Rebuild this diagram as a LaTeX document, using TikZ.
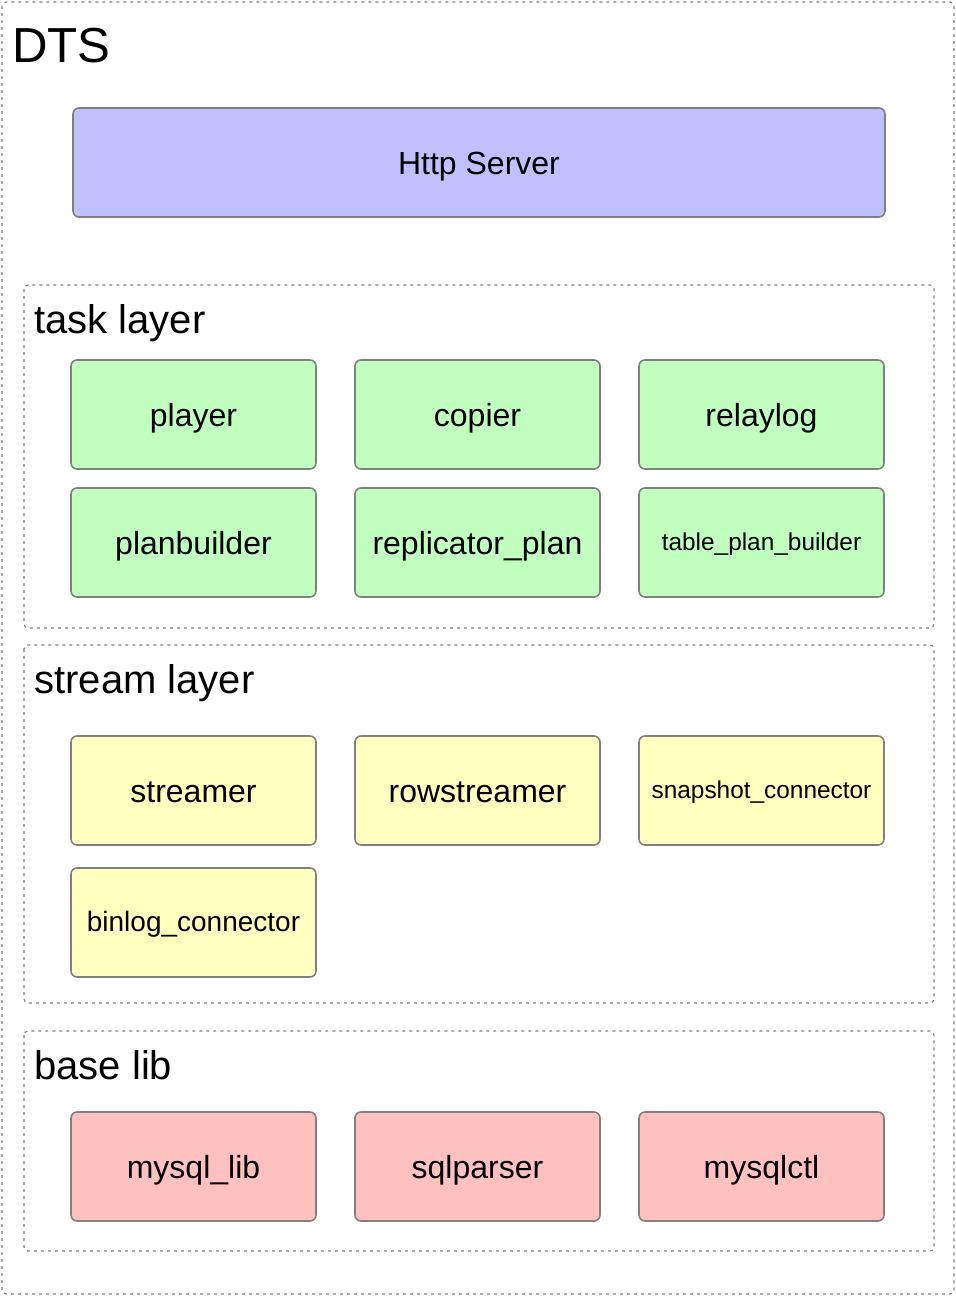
\documentclass[tikz,border=0pt]{standalone}
\usepackage{fontspec}
\setmainfont{Liberation Sans}

\definecolor{httpblue}{RGB}{192,192,255}
\definecolor{taskgreen}{RGB}{192,255,192}
\definecolor{streamyellow}{RGB}{255,255,192}
\definecolor{basered}{RGB}{255,192,192}
\definecolor{framegray}{RGB}{128,128,128}

\begin{document}
\begin{tikzpicture}[x=0.5pt, y=-0.5pt,
  module/.style={draw=framegray, line width=0.8pt, rounded corners=3pt, minimum width=122.5pt, minimum height=54.5pt, inner sep=0pt, text height=11.5pt, text depth=0pt, font=\fontsize{16}{19}\selectfont},
  smalltext/.style={text height=7.5pt, font=\fontsize{12.2}{15}\selectfont},
  layer/.style={draw=framegray, line width=0.6pt, dash pattern=on 1.5pt off 2pt, rounded corners=2pt},
  layertitle/.style={anchor=base west, inner sep=0pt, font=\fontsize{20}{24}\selectfont}]

\useasboundingbox (0,0) rectangle (956,1296);

% frames
\draw[layer] (2,2) rectangle (954,1294);
\draw[layer] (24,285) rectangle (934,628);
\draw[layer] (24,645) rectangle (934,1003);
\draw[layer] (24,1031) rectangle (934,1251);

% titles
\node[layertitle, font=\fontsize{24.6}{29}\selectfont] (dts) at (12,62) {DTS};
\node[layertitle] (tasktitle) at (34,333) {task layer};
\node[layertitle] (streamtitle) at (34,693) {stream layer};
\node[layertitle] (basetitle) at (34,1079) {base lib};

% http server
\node[module, fill=httpblue, minimum width=406pt] (http) at (479,162.5) {Http Server};

% task layer
\node[module, fill=taskgreen] (player) at (193.5,414.5) {player};
\node[module, fill=taskgreen] (copier) at (477.5,414.5) {copier};
\node[module, fill=taskgreen] (relaylog) at (761.5,414.5) {relaylog};
\node[module, fill=taskgreen] (planbuilder) at (193.5,542.5) {planbuilder};
\node[module, fill=taskgreen] (replplan) at (477.5,542.5) {replicator\_plan};
\node[module, fill=taskgreen, smalltext] (tableplan) at (761.5,542.5) {table\_plan\_builder};

% stream layer
\node[module, fill=streamyellow] (streamer) at (193.5,790.5) {streamer};
\node[module, fill=streamyellow] (rowstreamer) at (477.5,790.5) {rowstreamer};
\node[module, fill=streamyellow, smalltext] (snapshot) at (761.5,790.5) {snapshot\_connector};
\node[module, fill=streamyellow, text height=9pt, font=\fontsize{14}{17}\selectfont] (binlog) at (193.5,922.5) {binlog\_connector};

% base lib
\node[module, fill=basered] (mysqllib) at (193.5,1166.5) {mysql\_lib};
\node[module, fill=basered] (sqlparser) at (477.5,1166.5) {sqlparser};
\node[module, fill=basered] (mysqlctl) at (761.5,1166.5) {mysqlctl};

\end{tikzpicture}
\end{document}
